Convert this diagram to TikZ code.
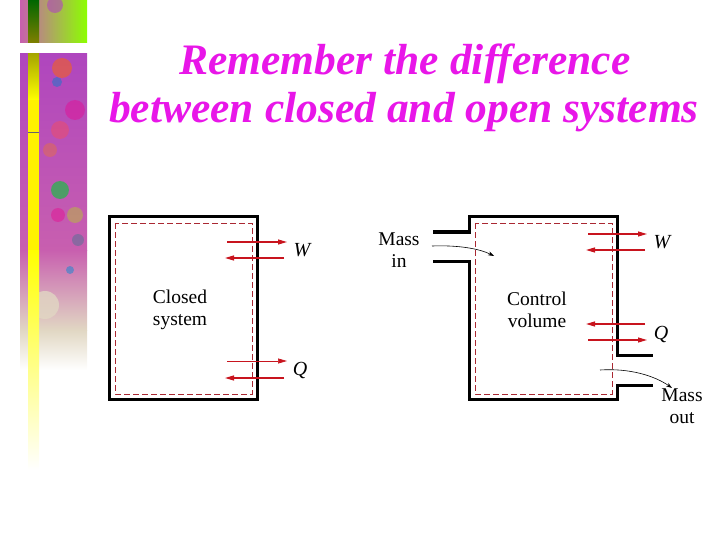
\documentclass[tikz,border=0pt]{standalone}
\usepackage{fontspec}
\setmainfont{Liberation Serif}
\usetikzlibrary{arrows.meta}

\definecolor{titlemag}{RGB}{232,22,232}
\definecolor{fluxred}{RGB}{200,20,30}
\definecolor{bndred}{RGB}{170,40,50}
\definecolor{decopink}{RGB}{200,95,175}
\definecolor{decoviolet}{RGB}{175,70,190}
\definecolor{decobeige}{RGB}{225,215,195}

\tikzset{
  wall/.style={line width=3pt},
  boundary/.style={bndred, line width=0.8pt, dash pattern=on 6pt off 3pt},
  flux/.style={fluxred, line width=1.2pt, -{Triangle[length=9pt,width=5pt]}},
  massflow/.style={line width=0.6pt, -{Stealth[length=6pt,width=4pt]}},
  lbl/.style={font=\fontsize{19.5}{22}\selectfont, align=center, inner sep=0pt},
  sym/.style={font=\fontsize{20}{22}\selectfont\itshape, inner sep=0pt},
  title/.style={titlemag, font=\fontsize{43.5}{46}\selectfont\bfseries\itshape, inner sep=0pt, anchor=base},
}

\begin{document}
\begin{tikzpicture}[x=1pt,y=-1pt]
\useasboundingbox (0,0) rectangle (720,540);

% side decoration
\shade[left color=decopink, right color=yellow!55!green] (20,0) rectangle (87,43);
\fill[decoviolet, opacity=0.6] (55,5) circle (8);
\shade[top color=decoviolet, bottom color=decopink] (20,54) rectangle (87,250);
\shade[top color=decopink, bottom color=decobeige] (20,250) rectangle (87,330);
\shade[top color=decobeige, bottom color=white] (20,330) rectangle (87,370);
\fill[orange!80!red, opacity=0.5] (62,68) circle (10);
\fill[cyan!60!blue, opacity=0.5] (57,82) circle (5);
\fill[red!70, opacity=0.4] (60,130) circle (9);
\fill[orange, opacity=0.3] (50,150) circle (7);
\fill[magenta, opacity=0.4] (75,110) circle (10);
\fill[green!60!teal, opacity=0.6] (60,190) circle (9);
\fill[yellow!70!green, opacity=0.4] (75,215) circle (8);
\fill[magenta, opacity=0.4] (58,215) circle (7);
\fill[cyan!70!blue, opacity=0.5] (70,270) circle (4);
\fill[teal, opacity=0.3] (78,240) circle (6);
\fill[decobeige, opacity=0.8] (45,305) circle (14);
\shade[top color=green!40!black, bottom color=olive] (28,0) rectangle (39,43);
\shade[top color=olive!70!yellow, bottom color=yellow] (28,54) rectangle (39,100);
\fill[yellow] (28,100) rectangle (39,250);
\shade[top color=yellow, bottom color=white] (28,250) rectangle (39,470);
\draw[black!60, line width=0.5pt] (28,132) -- (39,132);

% title
\node[title] (title1) at (405,75) {Remember the difference};
\node[title] (title2) at (404,123) {between closed and open systems};

% closed system
\draw[wall] (109,217) rectangle (257,399);
\draw[boundary] (115,223) rectangle (252,394);
\node[lbl] (closed) at (180,310) {Closed\\system};
\node[sym] (wc) at (302,250) {W};
\node[sym] (qc) at (300,370) {Q};
\coordinate (cw1a) at (227,242); \coordinate (cw1b) at (287,242);
\coordinate (cw2a) at (284,258); \coordinate (cw2b) at (225,258);
\coordinate (cq1a) at (227,361); \coordinate (cq1b) at (287,361);
\coordinate (cq2a) at (284,378); \coordinate (cq2b) at (225,378);
\draw[flux] (cw1a) -- (cw1b);
\draw[flux] (cw2a) -- (cw2b);
\draw[flux, line width=0.7pt] (cq1a) -- (cq1b);
\draw[flux] (cq2a) -- (cq2b);

% control volume
\draw[wall] (433,232) -- (469,232) -- (469,217) -- (617,217) -- (617,355) -- (653,355);
\draw[wall] (433,261) -- (469,261) -- (469,399) -- (617,399) -- (617,385) -- (653,385);
\draw[boundary] (475,223) rectangle (612,394);
\node[lbl] (cv) at (537,310) {Control\\volume};
\node[lbl] (massin) at (399,250) {Mass\\in};
\node[lbl] (massout) at (682,406) {Mass\\out};
\node[sym] (wo) at (662,242) {W};
\node[sym] (qo) at (661,334) {Q};
\coordinate (ow1a) at (588,234); \coordinate (ow1b) at (647,234);
\coordinate (ow2a) at (645,250); \coordinate (ow2b) at (586,250);
\coordinate (oq1a) at (645,324); \coordinate (oq1b) at (586,324);
\coordinate (oq2a) at (588,340); \coordinate (oq2b) at (647,340);
\draw[flux] (ow1a) -- (ow1b);
\draw[flux] (ow2a) -- (ow2b);
\draw[flux] (oq1a) -- (oq1b);
\draw[flux] (oq2a) -- (oq2b);
\coordinate (in1) at (432,246); \coordinate (in2) at (494,256);
\coordinate (out1) at (600,370); \coordinate (out2) at (672,388);
\draw[massflow] (in1) .. controls (460,245) and (480,249) .. (in2);
\draw[massflow] (out1) .. controls (630,368) and (655,376) .. (out2);
\end{tikzpicture}
\end{document}
